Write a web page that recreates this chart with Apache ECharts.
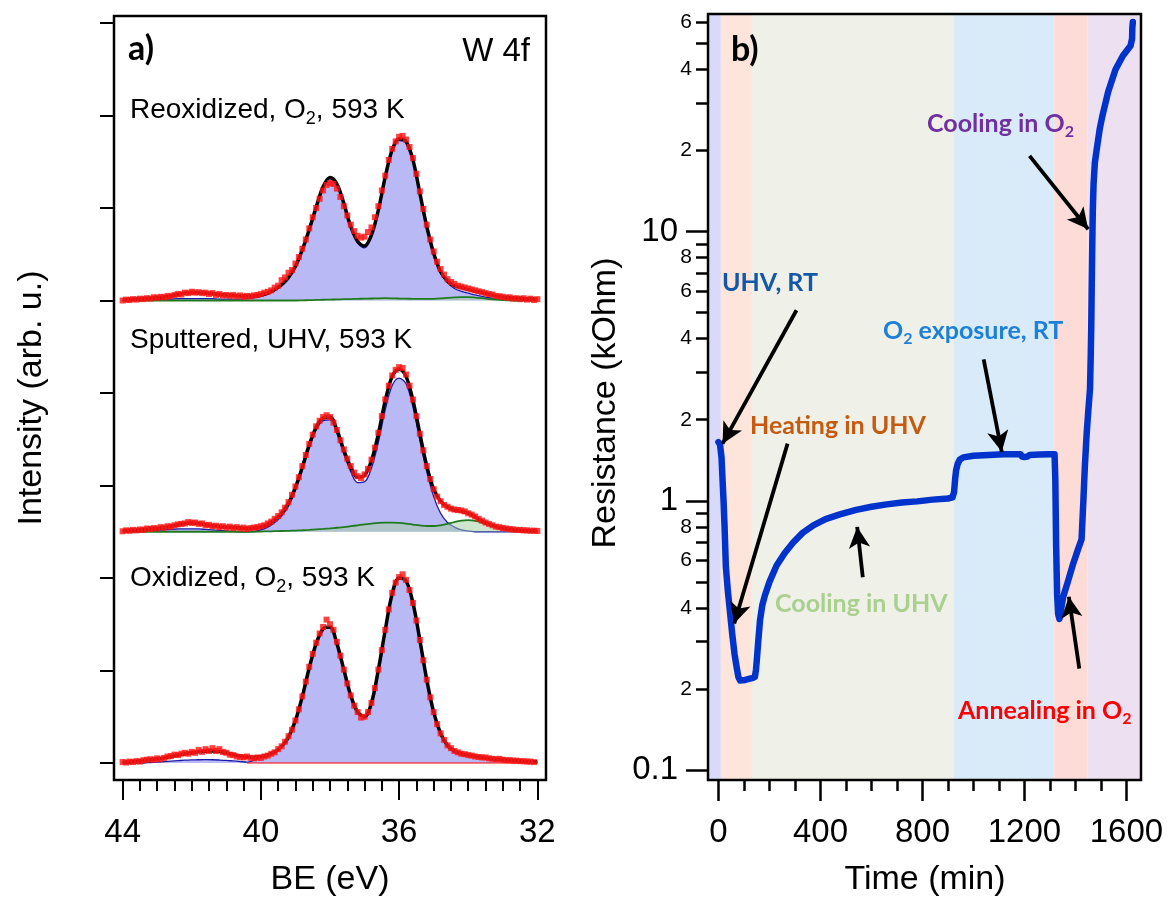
<!DOCTYPE html>
<html>
<head>
<meta charset="utf-8">
<script src="https://cdn.jsdelivr.net/npm/echarts@6/dist/echarts.min.js"></script>
<style>
  html, body { margin: 0; padding: 0; background: #fff; }
  #chart { width: 1167px; height: 897px; }
</style>
</head>
<body>
<div id="chart"></div>
<script>
// ---------- panel a) W 4f XPS spectra ----------
// evenly spaced binding-energy sampling (eV, high -> low)
function evenGrid(from, to, step) {
  const n = Math.round((from - to) / step) + 1;
  return Array.from({ length: n }, (_, i) => +(from - i * step).toFixed(2));
}
const fitBE = evenGrid(44, 32, 0.2);   // fitted curves
const dataBE = evenGrid(44, 32, 0.1);  // measured points

// baseline of each stacked spectrum (intensity units)
const reoxOffset = 5;
const sputOffset = 2.5;
const oxOffset = 0;

// Reoxidized, O2, 593 K
const reoxFit = [
  0.005, 0.01, 0.015, 0.02, 0.025, 0.03, 0.04, 0.05, 0.065, 0.08,
  0.085, 0.085, 0.08, 0.075, 0.065, 0.06, 0.055, 0.05, 0.05, 0.05,
  0.06, 0.08, 0.12, 0.17, 0.25, 0.37, 0.55, 0.77, 1.01, 1.23,
  1.33, 1.26, 1.05, 0.80, 0.64, 0.59, 0.71, 0.98, 1.34, 1.63,
  1.75, 1.72, 1.52, 1.16, 0.80, 0.51, 0.31, 0.21, 0.16, 0.14,
  0.12, 0.10, 0.085, 0.065, 0.05, 0.04, 0.03, 0.025, 0.02, 0.017,
  0.015
];
const reoxMain = [
  0, 0, 0.005, 0.005, 0.01, 0.01, 0.015, 0.015, 0.02, 0.02,
  0.02, 0.02, 0.02, 0.02, 0.015, 0.015, 0.015, 0.015, 0.02, 0.03,
  0.045, 0.07, 0.11, 0.16, 0.24, 0.36, 0.54, 0.76, 1.00, 1.22,
  1.32, 1.25, 1.04, 0.79, 0.62, 0.57, 0.69, 0.96, 1.32, 1.61,
  1.73, 1.71, 1.51, 1.15, 0.79, 0.50, 0.30, 0.19, 0.13, 0.10,
  0.08, 0.06, 0.045, 0.03, 0.02, 0.01, 0.005, 0, 0, 0,
  0
];
const reoxMinor = [
  0, 0, 0, 0, 0, 0, 0, 0, 0, 0,
  0, 0, 0, 0, 0, 0, 0, 0, 0, 0,
  0, 0, 0, 0, 0, 0, 0.002, 0.004, 0.006, 0.008,
  0.01, 0.012, 0.014, 0.016, 0.018, 0.02, 0.022, 0.024, 0.025, 0.024,
  0.022, 0.02, 0.018, 0.017, 0.017, 0.018, 0.022, 0.028, 0.033, 0.036,
  0.036, 0.032, 0.025, 0.016, 0.009, 0.004, 0.002, 0, 0, 0,
  0
];
const reoxData = [
  0.00, 0.01, 0.005, 0.015, 0.01, 0.02, 0.015, 0.025, 0.02, 0.035,
  0.03, 0.04, 0.035, 0.05, 0.045, 0.06, 0.07, 0.065, 0.085, 0.08,
  0.095, 0.085, 0.09, 0.08, 0.085, 0.07, 0.08, 0.06, 0.07, 0.055,
  0.06, 0.05, 0.06, 0.045, 0.055, 0.04, 0.05, 0.045, 0.055, 0.06,
  0.07, 0.085, 0.095, 0.11, 0.14, 0.16, 0.22, 0.25, 0.30, 0.33,
  0.40, 0.47, 0.56, 0.66, 0.78, 0.90, 1.00, 1.10, 1.19, 1.25,
  1.27, 1.26, 1.21, 1.12, 1.02, 0.92, 0.82, 0.75, 0.70, 0.68,
  0.69, 0.74, 0.79, 0.90, 1.02, 1.19, 1.35, 1.52, 1.64, 1.72,
  1.77, 1.78, 1.74, 1.66, 1.54, 1.37, 1.18, 0.99, 0.82, 0.66,
  0.53, 0.42, 0.34, 0.28, 0.23, 0.20, 0.18, 0.16, 0.15, 0.14,
  0.13, 0.12, 0.11, 0.10, 0.09, 0.08, 0.07, 0.065, 0.05, 0.045,
  0.04, 0.03, 0.035, 0.02, 0.025, 0.015, 0.025, 0.01, 0.02, 0.005,
  0.015
];

// Sputtered, UHV, 593 K
const sputFit = [
  0.01, 0.015, 0.02, 0.025, 0.03, 0.035, 0.045, 0.06, 0.075, 0.09,
  0.095, 0.09, 0.075, 0.065, 0.055, 0.05, 0.045, 0.04, 0.035, 0.04,
  0.05, 0.08, 0.13, 0.20, 0.31, 0.48, 0.70, 0.94, 1.13, 1.23,
  1.24, 1.10, 0.88, 0.70, 0.59, 0.61, 0.77, 1.06, 1.42, 1.68,
  1.76, 1.68, 1.42, 1.06, 0.71, 0.46, 0.33, 0.27, 0.235, 0.22,
  0.20, 0.16, 0.115, 0.083, 0.055, 0.037, 0.027, 0.018, 0.013, 0.01,
  0.007
];
const sputMain = [
  0, 0, 0, 0.005, 0.01, 0.015, 0.02, 0.025, 0.03, 0.03,
  0.03, 0.03, 0.025, 0.02, 0.015, 0.01, 0.005, 0, 0, 0.005,
  0.02, 0.05, 0.10, 0.17, 0.28, 0.45, 0.67, 0.91, 1.10, 1.20,
  1.21, 1.07, 0.84, 0.65, 0.53, 0.54, 0.69, 0.97, 1.32, 1.58,
  1.66, 1.60, 1.35, 0.99, 0.65, 0.38, 0.20, 0.10, 0.05, 0.02,
  0.01, 0, 0, 0, 0, 0, 0, 0, 0, 0,
  0
];
const sputMinor = [
  0, 0, 0, 0, 0, 0, 0, 0, 0, 0,
  0, 0, 0, 0, 0, 0, 0, 0, 0, 0,
  0.002, 0.004, 0.006, 0.008, 0.01, 0.013, 0.016, 0.02, 0.025, 0.03,
  0.036, 0.043, 0.05, 0.06, 0.07, 0.08, 0.088, 0.095, 0.098, 0.098,
  0.095, 0.088, 0.078, 0.068, 0.062, 0.062, 0.07, 0.085, 0.105, 0.12,
  0.125, 0.118, 0.098, 0.072, 0.048, 0.03, 0.018, 0.01, 0.005, 0.002,
  0
];
const sputData = [
  0.005, 0.015, 0.01, 0.02, 0.015, 0.025, 0.02, 0.035, 0.03, 0.04,
  0.035, 0.05, 0.045, 0.06, 0.055, 0.07, 0.08, 0.085, 0.09, 0.105,
  0.095, 0.10, 0.085, 0.09, 0.07, 0.075, 0.06, 0.065, 0.05, 0.06,
  0.045, 0.055, 0.04, 0.05, 0.035, 0.045, 0.03, 0.04, 0.045, 0.05,
  0.06, 0.07, 0.09, 0.11, 0.14, 0.17, 0.21, 0.26, 0.32, 0.40,
  0.49, 0.59, 0.71, 0.83, 0.95, 1.05, 1.14, 1.20, 1.24, 1.26,
  1.24, 1.18, 1.10, 0.99, 0.89, 0.79, 0.71, 0.64, 0.60, 0.58,
  0.62, 0.68, 0.78, 0.91, 1.07, 1.25, 1.43, 1.58, 1.69, 1.75,
  1.78, 1.77, 1.70, 1.58, 1.43, 1.25, 1.06, 0.88, 0.71, 0.57,
  0.46, 0.38, 0.33, 0.29, 0.27, 0.25, 0.24, 0.235, 0.23, 0.22,
  0.20, 0.185, 0.165, 0.14, 0.12, 0.10, 0.085, 0.07, 0.055, 0.05,
  0.04, 0.035, 0.03, 0.025, 0.02, 0.02, 0.015, 0.015, 0.01, 0.012,
  0.008
];

// Oxidized, O2, 593 K
const oxFit = [
  0.007, 0.012, 0.02, 0.028, 0.035, 0.043, 0.055, 0.07, 0.085, 0.10,
  0.11, 0.12, 0.127, 0.13, 0.125, 0.11, 0.09, 0.075, 0.065, 0.062,
  0.07, 0.086, 0.12, 0.18, 0.28, 0.46, 0.72, 1.03, 1.29, 1.45,
  1.47, 1.29, 1.01, 0.73, 0.55, 0.50, 0.65, 1.01, 1.44, 1.83,
  2.00, 1.97, 1.73, 1.33, 0.90, 0.55, 0.32, 0.19, 0.13, 0.10,
  0.086, 0.072, 0.06, 0.05, 0.04, 0.035, 0.03, 0.025, 0.018, 0.014,
  0.012
];
const oxMain = [
  0, 0, 0, 0, 0.005, 0.01, 0.015, 0.02, 0.025, 0.03,
  0.033, 0.035, 0.036, 0.035, 0.032, 0.028, 0.022, 0.016, 0.01, 0.03,
  0.06, 0.08, 0.115, 0.175, 0.275, 0.455, 0.715, 1.025, 1.285, 1.445,
  1.465, 1.285, 1.005, 0.725, 0.545, 0.495, 0.645, 1.005, 1.435, 1.825,
  1.995, 1.965, 1.725, 1.325, 0.895, 0.545, 0.315, 0.185, 0.125, 0.095,
  0.08, 0.066, 0.054, 0.044, 0.034, 0.029, 0.024, 0.019, 0.012, 0.008,
  0.006
];
const oxData = [
  0.01, 0.005, 0.015, 0.01, 0.02, 0.015, 0.03, 0.035, 0.04, 0.035,
  0.05, 0.04, 0.055, 0.07, 0.075, 0.09, 0.085, 0.10, 0.11, 0.10,
  0.12, 0.11, 0.14, 0.12, 0.15, 0.13, 0.16, 0.13, 0.15, 0.12,
  0.11, 0.09, 0.085, 0.07, 0.065, 0.06, 0.07, 0.055, 0.05, 0.06,
  0.055, 0.07, 0.08, 0.10, 0.115, 0.15, 0.18, 0.23, 0.29, 0.36,
  0.46, 0.58, 0.72, 0.88, 1.04, 1.18, 1.30, 1.40, 1.47, 1.55,
  1.50, 1.44, 1.31, 1.16, 1.01, 0.86, 0.73, 0.62, 0.55, 0.49,
  0.50, 0.55, 0.65, 0.81, 1.01, 1.22, 1.44, 1.66, 1.84, 1.95,
  2.01, 2.04, 1.98, 1.87, 1.73, 1.54, 1.33, 1.11, 0.90, 0.71,
  0.55, 0.42, 0.32, 0.25, 0.19, 0.16, 0.13, 0.115, 0.10, 0.095,
  0.085, 0.08, 0.07, 0.065, 0.06, 0.06, 0.05, 0.045, 0.04, 0.045,
  0.035, 0.03, 0.03, 0.025, 0.025, 0.02, 0.02, 0.015, 0.015, 0.01,
  null
];
const oxBaselineBE = [40.4, 32.0];

const beMajorTicks = [44, 40, 36, 32];
const beMinorTicks = evenGrid(44, 32, 0.5).filter(v => beMajorTicks.indexOf(v) < 0);
const intensityTicks = [0, 1, 2, 3, 4, 5, 6, 7, 8];

// ---------- panel b) resistance vs time ----------
const timeMin = [
  0, 6, 12, 16, 20, 24, 29, 37, 46, 54,
  63, 70, 78, 85, 92, 105, 120, 135, 143, 147,
  151, 156, 163, 172, 182, 200, 228, 260, 293, 330,
  372, 420, 476, 540, 600, 660, 720, 780, 840, 900,
  918, 924, 928, 932, 938, 946, 960, 1000, 1060, 1120,
  1185, 1190, 1200, 1212, 1220, 1260, 1300, 1318, 1321, 1324,
  1328, 1332, 1337, 1343, 1352, 1370, 1390, 1410, 1424, 1431,
  1437, 1444, 1451, 1457, 1460, 1462, 1464, 1466, 1468, 1471,
  1476, 1484, 1495, 1506, 1528, 1557, 1586, 1616, 1622, 1623,
  1625
];
const resistanceKOhm = [
  1.65, 1.62, 1.45, 1.2, 1.0, 0.8, 0.57, 0.46, 0.38, 0.32,
  0.27, 0.245, 0.222, 0.215, 0.213, 0.216, 0.218, 0.22, 0.222, 0.235,
  0.26, 0.3, 0.36, 0.41, 0.445, 0.5, 0.575, 0.64, 0.70, 0.76,
  0.81, 0.855, 0.89, 0.925, 0.95, 0.97, 0.985, 0.995, 1.01, 1.02,
  1.03, 1.08, 1.2, 1.3, 1.37, 1.42, 1.45, 1.47, 1.48, 1.49,
  1.49, 1.46, 1.455, 1.46, 1.48, 1.485, 1.49, 1.49, 1.2, 0.7,
  0.45, 0.38, 0.364, 0.37, 0.44, 0.5, 0.58, 0.66, 0.72, 1.0,
  1.35, 1.78, 2.2, 2.6, 3.5, 4.5, 6.5, 9, 12, 15,
  18, 20.4, 24, 27, 33, 40, 45, 49, 52, 57,
  60
];

// process stages: [start, end] in min
const stageRanges = [[-41, 9.4], [9.4, 131], [131, 921], [921, 1317], [1317, 1447], [1447, 1657]];
const stageColors = ['#d9d9fa', '#fde5db', '#eff1e8', '#d9ebf8', '#fddcd8', '#ede0f0'];

// annotation arrows: tail -> head, (min, kOhm)
const arrowTails = [[306, 5.1], [271, 1.63], [566, 0.52], [1040, 3.35], [1415, 0.238], [1220, 19.1]];
const arrowHeads = [[16, 1.63], [62, 0.35], [544, 0.80], [1111, 1.52], [1374, 0.44], [1450, 10.2]];

const timeMajorTicks = [0, 400, 800, 1200, 1600];
const timeMinorTicks = [100, 200, 300, 500, 600, 700, 900, 1000, 1100, 1300, 1400, 1500];
const resMajorTicks = [0.1, 1, 10];
const resMajorLabels = ['0.1', '1', '10'];
const resMinorTicks = [0.2, 0.3, 0.4, 0.5, 0.6, 0.7, 0.8, 0.9, 2, 3, 4, 5, 6, 7, 8, 9, 20, 30, 40, 50, 60];
const resLabelledMinor = [0.2, 0.4, 0.6, 0.8, 2, 4, 6, 8, 20, 40, 60];
const resLabelledMinorText = ['2', '4', '6', '8', '2', '4', '6', '8', '2', '4', '6'];

// ---------- build chart ----------
const ARIAL = '"Liberation Sans", Arial, sans-serif';
const CALIBRI = 'Lato, "Open Sans", sans-serif';
const lg = v => Math.log10(v);

function labelFor(ticks, texts) {
  const logs = ticks.map(lg);
  return v => {
    let best = 0;
    logs.forEach((l, i) => { if (Math.abs(l - v) < Math.abs(logs[best] - v)) best = i; });
    return texts[best];
  };
}

function spectrumSeries(off, fit, main, minor, meas) {
  const out = [];
  out.push({
    type: 'line', xAxisIndex: 0, yAxisIndex: 0, silent: true, z: 2,
    data: fitBE.map((b, i) => [b, off + main[i]]),
    smooth: 0.35, showSymbol: false,
    lineStyle: { color: '#1a1aa8', width: 1.3 },
    areaStyle: { color: '#b9b9f6', opacity: 1, origin: off }
  });
  if (minor) {
    out.push({
      type: 'line', xAxisIndex: 0, yAxisIndex: 0, silent: true, z: 3,
      data: fitBE.map((b, i) => [b, off + minor[i]]),
      smooth: 0.35, showSymbol: false,
      lineStyle: { color: '#1f7a1f', width: 1.8 },
      areaStyle: { color: 'rgba(165,205,160,0.75)', origin: off }
    });
  }
  out.push({
    type: 'line', xAxisIndex: 0, yAxisIndex: 0, silent: true, z: 4,
    data: fitBE.map((b, i) => [b, off + fit[i]]),
    smooth: 0.35, showSymbol: false,
    lineStyle: { color: '#000', width: 3.5 }
  });
  out.push({
    type: 'scatter', xAxisIndex: 0, yAxisIndex: 0, silent: true, z: 5,
    data: dataBE.map((b, i) => meas[i] == null ? null : [b, off + meas[i]]).filter(p => p),
    symbol: 'rect', symbolSize: 6,
    itemStyle: { color: '#ff1414' }
  });
  return out;
}

const series = [].concat(
  spectrumSeries(reoxOffset, reoxFit, reoxMain, reoxMinor, reoxData),
  spectrumSeries(sputOffset, sputFit, sputMain, sputMinor, sputData),
  [{
    type: 'line', xAxisIndex: 0, yAxisIndex: 0, silent: true, z: 3,
    data: oxBaselineBE.map(b => [b, oxOffset]), showSymbol: false,
    lineStyle: { color: '#ff0000', width: 1.2 }
  }],
  spectrumSeries(oxOffset, oxFit, oxMain, null, oxData),
  [
    {
      type: 'line', xAxisIndex: 2, yAxisIndex: 1, silent: true, z: 1, data: [],
      markArea: {
        silent: true,
        data: stageRanges.map((r, i) => [
          { xAxis: r[0], itemStyle: { color: stageColors[i], opacity: 1 } },
          { xAxis: r[1] }
        ])
      }
    },
    {
      type: 'line', xAxisIndex: 2, yAxisIndex: 1, silent: true, z: 4,
      data: timeMin.map((t, i) => [t, lg(resistanceKOhm[i])]),
      showSymbol: false,
      lineStyle: { color: '#0033cc', width: 6.5, cap: 'round', join: 'round' }
    },
    {
      type: 'line', xAxisIndex: 2, yAxisIndex: 1, silent: true, z: 6, data: [],
      markLine: {
        silent: true, animation: false,
        symbol: ['none', 'arrow'], symbolSize: [16, 21],
        lineStyle: { color: '#000', width: 3.8, type: 'solid' },
        label: { show: false },
        data: arrowTails.map((a, i) => [
          { coord: [a[0], lg(a[1])] },
          { coord: [arrowHeads[i][0], lg(arrowHeads[i][1])] }
        ])
      }
    }
  ]
);

function annot(x, y, parts, color, align) {
  // parts: array of [text, isSubscript]
  const txt = parts.map(p => (p[1] ? '{s|' : '{m|') + p[0] + '}').join('');
  return {
    type: 'text', x: x, y: y, z: 50, silent: true,
    style: {
      text: txt, align: align || 'left', verticalAlign: 'middle',
      rich: {
        m: { fontFamily: CALIBRI, fontWeight: 'bold', fontSize: 25, fill: color, lineHeight: 32 },
        s: { fontFamily: CALIBRI, fontWeight: 'bold', fontSize: 16, fill: color, lineHeight: 16, verticalAlign: 'bottom' }
      }
    }
  };
}
function specLabel(x, y, parts) {
  const txt = parts.map(p => (p[1] ? '{s|' : '{m|') + p[0] + '}').join('');
  return {
    type: 'text', x: x, y: y, z: 50, silent: true,
    style: {
      text: txt, align: 'left', verticalAlign: 'middle',
      rich: {
        m: { fontFamily: ARIAL, fontSize: 28, fill: '#000', lineHeight: 36 },
        s: { fontFamily: ARIAL, fontSize: 18, fill: '#000', lineHeight: 18, verticalAlign: 'bottom' }
      }
    }
  };
}
function plainText(x, y, text, font, align, rotation) {
  return {
    type: 'text', x: x, y: y, z: 50, silent: true, rotation: rotation || 0,
    style: { text: text, font: font, fill: '#000', align: align || 'center', verticalAlign: 'middle' }
  };
}

const tickOut = (vals, len, w) => ({ customValues: vals, inside: false, length: len, lineStyle: { color: '#000', width: w } });
const noLine = { show: false, onZero: false };

const option = {
  animation: false,
  backgroundColor: '#fff',
  grid: [
    { left: 114, top: 16, width: 432, height: 764, show: true, z: 20,
      borderColor: '#000', borderWidth: 2.5, backgroundColor: 'transparent' },
    { left: 708, top: 14, width: 433, height: 766, show: true, z: 20,
      borderColor: '#000', borderWidth: 2.5, backgroundColor: 'transparent' }
  ],
  xAxis: [
    { gridIndex: 0, type: 'value', position: 'bottom', min: 31.75, max: 44.25, inverse: true,
      axisLine: noLine, splitLine: { show: false },
      axisTick: tickOut(beMajorTicks, 20, 2),
      axisLabel: { customValues: beMajorTicks, fontSize: 33, fontFamily: ARIAL, color: '#000', margin: 36 } },
    { gridIndex: 0, type: 'value', position: 'bottom', min: 31.75, max: 44.25, inverse: true,
      axisLine: noLine, splitLine: { show: false }, axisLabel: { show: false },
      axisTick: tickOut(beMinorTicks, 11, 2) },
    { gridIndex: 1, type: 'value', position: 'bottom', min: -41, max: 1657,
      axisLine: noLine, splitLine: { show: false },
      axisTick: tickOut(timeMajorTicks, 21, 2.5),
      axisLabel: { customValues: timeMajorTicks, fontSize: 33, fontFamily: ARIAL, color: '#000', margin: 36,
                   formatter: v => String(v) } },
    { gridIndex: 1, type: 'value', position: 'bottom', min: -41, max: 1657,
      axisLine: noLine, splitLine: { show: false }, axisLabel: { show: false },
      axisTick: tickOut(timeMinorTicks, 11, 2.5) }
  ],
  yAxis: [
    { gridIndex: 0, type: 'value', position: 'left', min: -0.184, max: 8.076,
      axisLine: noLine, splitLine: { show: false }, axisLabel: { show: false },
      axisTick: tickOut(intensityTicks, 14, 2) },
    { gridIndex: 1, type: 'value', position: 'left', min: -1.037, max: 1.808,
      axisLine: noLine, splitLine: { show: false },
      axisTick: tickOut(resMajorTicks.map(lg), 22, 2.5),
      axisLabel: { customValues: resMajorTicks.map(lg), fontSize: 33, fontFamily: ARIAL, color: '#000', margin: 30,
                   formatter: labelFor(resMajorTicks, resMajorLabels) } },
    { gridIndex: 1, type: 'value', position: 'left', min: -1.037, max: 1.808,
      axisLine: noLine, splitLine: { show: false },
      axisTick: tickOut(resMinorTicks.map(lg), 12, 2.5),
      axisLabel: { customValues: resLabelledMinor.map(lg), fontSize: 21, fontFamily: ARIAL, color: '#000', margin: 16,
                   formatter: labelFor(resLabelledMinor, resLabelledMinorText) } }
  ],
  series: series,
  graphic: [
    plainText(32, 398, 'Intensity (arb. u.)', '34px ' + ARIAL, 'center', Math.PI / 2),
    plainText(330, 880, 'BE (eV)', '34px ' + ARIAL),
    plainText(606, 403, 'Resistance (kOhm)', '34px ' + ARIAL, 'center', Math.PI / 2),
    plainText(925, 880, 'Time (min)', '34px ' + ARIAL),
    plainText(128, 49, 'a)', 'bold 34px ' + CALIBRI, 'left'),
    plainText(530, 52, 'W 4f', '33px ' + ARIAL, 'right'),
    plainText(731, 50, 'b)', 'bold 34px ' + CALIBRI, 'left'),
    specLabel(130, 110, [['Reoxidized, O'], ['2', 1], [', 593 K']]),
    specLabel(130, 340, [['Sputtered, UHV, 593 K']]),
    specLabel(130, 578, [['Oxidized, O'], ['2', 1], [', 593 K']]),
    annot(722, 283, [['UHV, RT']], '#1357a8'),
    annot(750, 426, [['Heating in UHV']], '#c55a11'),
    annot(775, 604, [['Cooling in UHV']], '#a9d08e'),
    annot(883, 331, [['O'], ['2', 1], [' exposure, RT']], '#1d80d6'),
    annot(958, 711, [['Annealing in O'], ['2', 1]], '#ff0000'),
    annot(927, 124, [['Cooling in O'], ['2', 1]], '#7030a0')
  ]
};

const chart = echarts.init(document.getElementById('chart'), null, { renderer: 'canvas' });
chart.setOption(option);
</script>
</body>
</html>
